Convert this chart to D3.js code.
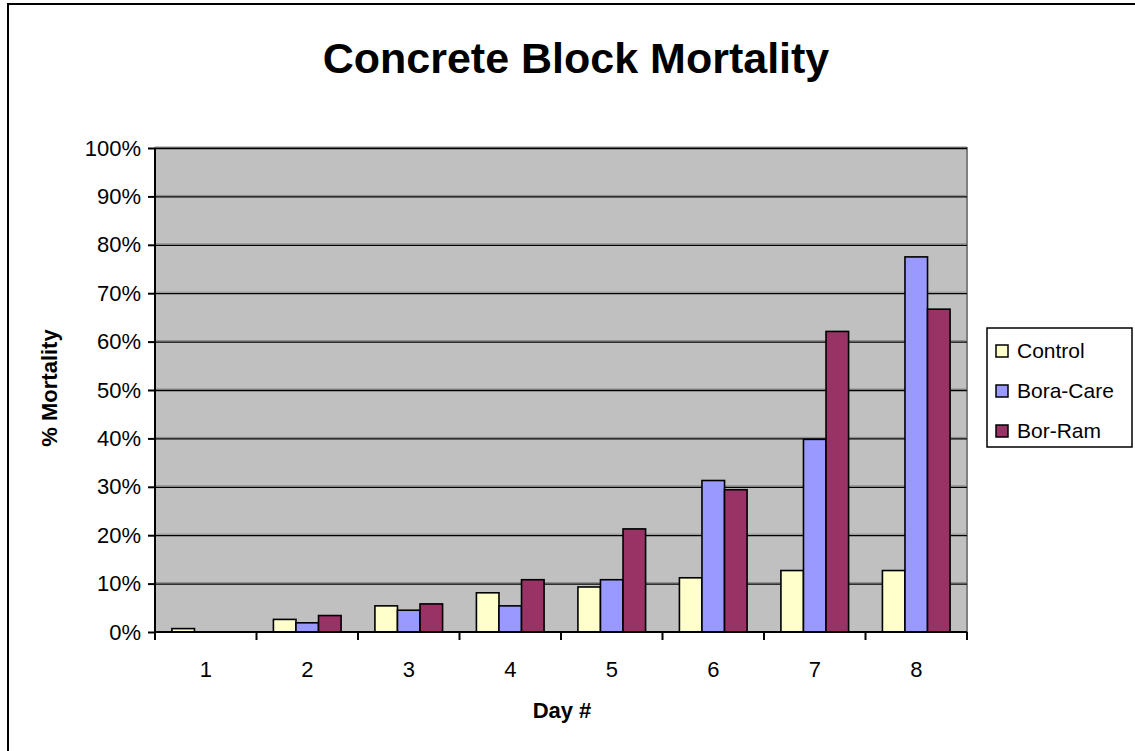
<!DOCTYPE html>
<html>
<head>
<meta charset="utf-8">
<script src="https://cdn.jsdelivr.net/npm/d3@7"></script>
<style>
  body { margin: 0; background: #fff; }
  text { font-family: "Liberation Sans", Arial, sans-serif; }
</style>
</head>
<body>
<svg id="chart" width="1135" height="751"></svg>
<script>
var days = ["1", "2", "3", "4", "5", "6", "7", "8"];
var seriesNames = ["Control", "Bora-Care", "Bor-Ram"];
var control = [0.7, 2.6, 5.4, 8.1, 9.3, 11.2, 12.7, 12.7];
var boraCare = [0, 1.9, 4.5, 5.4, 10.8, 31.3, 39.8, 77.5];
var borRam = [0, 3.4, 5.8, 10.8, 21.3, 29.4, 62.1, 66.7];
var yTicks = [0, 10, 20, 30, 40, 50, 60, 70, 80, 90, 100];
var colors = ["#FFFFCC", "#9999FF", "#993366"];

var svg = d3.select("#chart");
var margin = {left: 155, top: 148, right: 967, bottom: 632};
var series = [control, boraCare, borRam];

// outer chart frame (right/bottom edges fall outside the picture)
svg.append("rect")
    .attr("x", 8).attr("y", 4)
    .attr("width", 1200).attr("height", 900)
    .attr("fill", "#fff").attr("stroke", "#000").attr("stroke-width", 2);

var x = d3.scaleBand().domain(days).range([margin.left, margin.right]);
// gap width 150%: 0.75 bar on each side of the cluster
var xInner = d3.scaleBand().domain(seriesNames)
    .range([0, x.bandwidth()]).paddingInner(0).paddingOuter(0.75);
var y = d3.scaleLinear().domain([0, 100]).range([margin.bottom, margin.top]);

// plot background
svg.append("rect")
    .attr("x", margin.left).attr("y", margin.top)
    .attr("width", margin.right - margin.left).attr("height", margin.bottom - margin.top)
    .attr("fill", "#C0C0C0").attr("stroke", "#808080").attr("stroke-width", 2);

// gridlines with a soft shadow
var grid = svg.append("g");
grid.selectAll("line.shadow").data(yTicks.slice(1)).enter().append("line")
    .attr("x1", margin.left).attr("x2", margin.right)
    .attr("y1", function (d) { return y(d) - 1; }).attr("y2", function (d) { return y(d) - 1; })
    .attr("stroke", "#8a8a8a").attr("stroke-width", 1);
grid.selectAll("line.major").data(yTicks.slice(1)).enter().append("line")
    .attr("x1", margin.left).attr("x2", margin.right)
    .attr("y1", function (d) { return y(d) + 0.5; }).attr("y2", function (d) { return y(d) + 0.5; })
    .attr("stroke", "#000").attr("stroke-width", 1.3);

// bars
var groups = svg.append("g").selectAll("g").data(series).enter().append("g")
    .attr("fill", function (d, i) { return colors[i]; });
groups.each(function (vals, si) {
    var pts = vals.map(function (v, i) { return {day: days[i], value: v}; })
        .filter(function (p) { return p.value > 0; });
    d3.select(this).selectAll("rect").data(pts).enter().append("rect")
        .attr("x", function (d) { return x(d.day) + xInner(seriesNames[si]); })
        .attr("width", xInner.bandwidth())
        .attr("y", function (d) { return y(d.value); })
        .attr("height", function (d) { return y(0) - y(d.value); })
        .attr("stroke", "#000").attr("stroke-width", 1.6);
});

// axes
var yAxis = d3.axisLeft(y).tickValues(yTicks).tickSize(7).tickPadding(7)
    .tickFormat(function (d) { return d + "%"; });
var gy = svg.append("g").attr("transform", "translate(" + margin.left + ",0)").call(yAxis);
gy.select(".domain").attr("stroke-width", 2).attr("d", "M0," + margin.top + "V" + margin.bottom);
gy.selectAll(".tick line").attr("stroke-width", 2);
gy.selectAll("text").attr("font-size", 22).attr("fill", "#000")
    .attr("font-family", "Liberation Sans, Arial, sans-serif");

var xTickPos = d3.range(days.length + 1).map(function (i) { return margin.left + i * x.bandwidth(); });
var gx = svg.append("g");
gx.append("line").attr("x1", margin.left).attr("x2", margin.right)
    .attr("y1", margin.bottom).attr("y2", margin.bottom)
    .attr("stroke", "#000").attr("stroke-width", 2);
gx.selectAll("line.tick").data(xTickPos).enter().append("line")
    .attr("x1", function (d) { return d; }).attr("x2", function (d) { return d; })
    .attr("y1", margin.bottom).attr("y2", margin.bottom + 8)
    .attr("stroke", "#000").attr("stroke-width", 2);
gx.selectAll("text").data(days).enter().append("text")
    .attr("x", function (d) { return x(d) + x.bandwidth() / 2; })
    .attr("y", 677)
    .attr("text-anchor", "middle").attr("font-size", 22)
    .text(function (d) { return d; });

// titles
svg.append("text").attr("x", 576).attr("y", 73).attr("text-anchor", "middle")
    .attr("font-size", 43).attr("font-weight", "bold").text("Concrete Block Mortality");
svg.append("text").attr("x", 562).attr("y", 718).attr("text-anchor", "middle")
    .attr("font-size", 22).attr("font-weight", "bold").text("Day #");
svg.append("text").attr("transform", "translate(57,388) rotate(-90)").attr("text-anchor", "middle")
    .attr("font-size", 22).attr("font-weight", "bold").text("% Mortality");

// legend
var legend = svg.append("g");
legend.append("rect").attr("x", 987).attr("y", 328).attr("width", 145).attr("height", 119)
    .attr("fill", "#fff").attr("stroke", "#000").attr("stroke-width", 1.5);
var items = legend.selectAll("g").data(seriesNames).enter().append("g")
    .attr("transform", function (d, i) { return "translate(996," + (358 + i * 40) + ")"; });
items.append("rect").attr("x", 0).attr("y", -13).attr("width", 12).attr("height", 12)
    .attr("fill", function (d, i) { return colors[i]; })
    .attr("stroke", "#000").attr("stroke-width", 1.5);
items.append("text").attr("x", 21).attr("y", 0).attr("font-size", 21)
    .text(function (d) { return d; });
</script>
</body>
</html>
